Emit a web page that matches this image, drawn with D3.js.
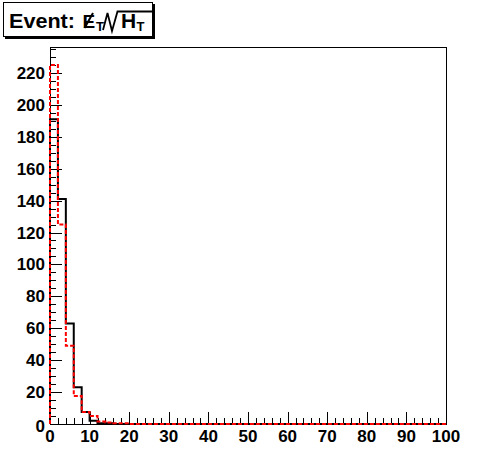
<!DOCTYPE html>
<html><head><meta charset="utf-8">
<script src="https://cdn.jsdelivr.net/npm/d3@7"></script>
<style>body{margin:0;background:#fff}svg{display:block}</style>
</head><body>
<svg id="c" width="496" height="472"></svg>
<script>
const binEdges = d3.range(0, 101, 2);
const blackValues = [191,141,63,23,7.5,2,0.5,0.5,0,0,0,0,0,0,0,0,0,0,0,0,0,0,0,0,0,0,0,0,0,0,0,0,0,0,0,0,0,0,0,0,0,0,0,0,0,0,0,0,0,0];
const redValues   = [225,125,49,17.5,7.5,5,1.5,1,0.5,0.5,0,0,0,0,0,0,0,0,0,0,0,0,0,0,0,0,0,0,0,0,0,0,0,0,0,0,0,0,0,0,0,0,0,0,0,0,0,0,0,0];
const xTickLabels = [0,10,20,30,40,50,60,70,80,90,100];
const yTickLabels = [0,20,40,60,80,100,120,140,160,180,200,220];

const svg = d3.select("#c");
const font = "'Liberation Sans', Arial, Helvetica, sans-serif";
const x = d3.scaleLinear().domain([0,100]).range([50,446]);
const y = d3.scaleLinear().domain([0,236.25]).range([424,47]);

// frame
svg.append("rect").attr("x",x(0)).attr("y",y(236.25)).attr("width",x(100)-x(0)).attr("height",y(0)-y(236.25))
  .attr("fill","none").attr("stroke","#000").attr("stroke-width",1).attr("shape-rendering","crispEdges");

// x ticks
const xt = svg.append("g").attr("stroke","#000").attr("shape-rendering","crispEdges");
d3.range(0,101,2).forEach(v=>{
  const major = v%10===0;
  xt.append("line").attr("x1",Math.round(x(v))+0.5).attr("x2",Math.round(x(v))+0.5)
    .attr("y1",424).attr("y2",424-(major?12:6));
});
// y ticks
const yt = svg.append("g").attr("stroke","#000").attr("shape-rendering","crispEdges");
d3.range(0,236,5).forEach(v=>{
  const major = v%20===0;
  yt.append("line").attr("y1",Math.round(y(v))+0.5).attr("y2",Math.round(y(v))+0.5)
    .attr("x1",50).attr("x2",50+(major?12:6));
});
// labels
svg.append("g").selectAll("text").data(xTickLabels).join("text")
  .attr("x",d=>x(d)).attr("y",442).attr("text-anchor","middle")
  .attr("font-family",font).attr("font-weight","bold").attr("font-size",17).text(d=>d);
svg.append("g").selectAll("text").data(yTickLabels).join("text")
  .attr("x",45).attr("y",d=>y(d)+6+(d===0?2:0)).attr("text-anchor","end")
  .attr("font-family",font).attr("font-weight","bold").attr("font-size",17).text(d=>d);

function histPath(vals){
  const p = d3.path();
  p.moveTo(x(binEdges[0]), y(0));
  vals.forEach((v,i)=>{
    p.lineTo(x(binEdges[i]), y(v));
    p.lineTo(x(binEdges[i+1]), y(v));
  });
  p.lineTo(x(binEdges[binEdges.length-1]), y(0));
  return p.toString();
}
svg.append("path").attr("d",histPath(blackValues)).attr("fill","none").attr("stroke","#000").attr("stroke-width",2);
svg.append("path").attr("d",histPath(redValues)).attr("fill","none").attr("stroke","#ff0000").attr("stroke-width",2).attr("stroke-dasharray","4,2");

// title box
svg.append("rect").attr("x",5).attr("y",4).attr("width",150).attr("height",35).attr("fill","#000");
svg.append("rect").attr("x",3.5).attr("y",2.5).attr("width",149).attr("height",34).attr("fill","#fff").attr("stroke","#000").attr("stroke-width",1);
const tg = svg.append("g").attr("font-family",font).attr("font-weight","bold");
tg.append("text").attr("x",9).attr("y",28).attr("font-size",21).attr("textLength",66).attr("lengthAdjust","spacingAndGlyphs").text("Event:");
tg.append("text").attr("x",82.5).attr("y",28).attr("font-size",19).text("E");
tg.append("text").attr("x",96).attr("y",31).attr("font-size",13).text("T");
tg.append("text").attr("x",121).attr("y",28).attr("font-size",21).text("H");
tg.append("text").attr("x",136.5).attr("y",31).attr("font-size",13).text("T");
tg.append("path").attr("d","M84.5 28 L93 13").attr("stroke","#000").attr("stroke-width",2).attr("fill","none");
tg.append("path").attr("d","M103 30 L107.5 13 L112 31 L117.5 11.5 L152 11.5").attr("stroke","#000").attr("stroke-width",1.8).attr("fill","none");
</script>
</body></html>
